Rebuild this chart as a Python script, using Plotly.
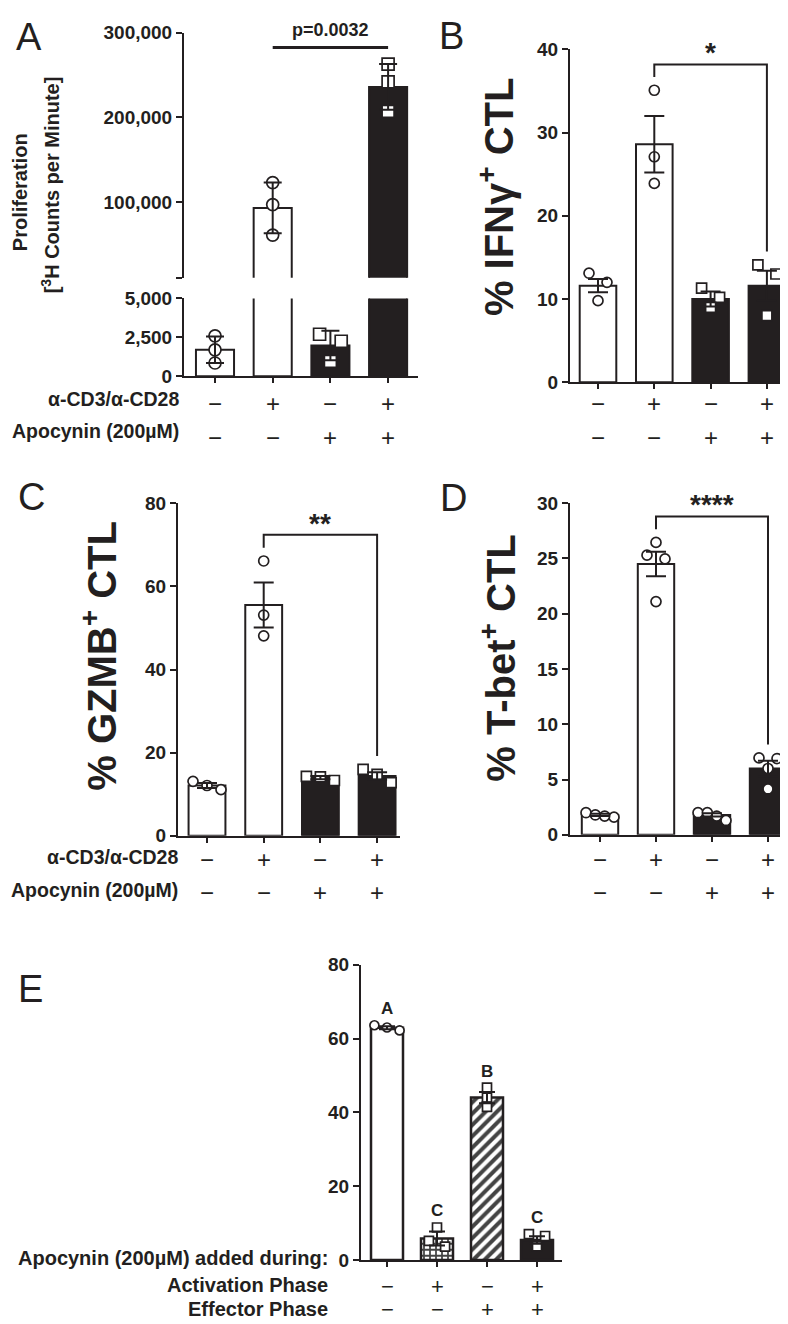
import plotly.graph_objects as go

W, H = 788, 1324
INK = "#231f20"
FONT = "Liberation Sans, Arial, sans-serif"

# ---- data ----
conds = [0, 1, 2, 3]
cd3_signs = ["−", "+", "−", "+"]
apo_signs = ["−", "−", "+", "+"]
act_signs = ["−", "+", "−", "+"]
eff_signs = ["−", "−", "+", "+"]

prolif_mean = [1700, 93000, 1970, 236000]
prolif_sd = [850, 30000, 950, 27000]
prolif_pts = [[2600, 1700, 850], [123000, 97000, 61000],
              [2700, 2250, 950], [263000, 242000, 207000]]

ifng_mean = [11.6, 28.6, 10.0, 11.6]
ifng_sem = [0.8, 3.4, 0.9, 1.8]
ifng_pts = [[13.1, 12.0, 9.8], [35.1, 27.1, 23.9], [11.3, 10.2, 9.0], [14.1, 13.0, 8.0]]

gzmb_mean = [12.1, 55.5, 14.0, 14.4]
gzmb_sem = [0.6, 5.4, 0.4, 0.9]
gzmb_pts = [[11.1, 13.1, 12.1], [66.1, 53.1, 48.1], [13.3, 14.3, 14.2], [16.0, 14.8, 12.8]]

tbet_mean = [1.8, 24.5, 1.8, 6.0]
tbet_sem = [0.1, 1.1, 0.15, 0.7]
tbet_pts = [[1.6, 2.0, 1.7, 1.8], [26.45, 25.3, 24.96, 21.1],
            [1.3, 2.0, 1.7, 2.0], [6.96, 6.9, 6.0, 4.15]]

phase_mean = [62.9, 5.8, 44.0, 5.4]
phase_sem = [0.4, 1.9, 1.5, 1.0]
phase_pts = [[62.2, 63.6, 63.0], [8.8, 5.2, 3.6], [46.7, 44.0, 41.5], [7.0, 6.5, 3.7]]
phase_letters = ["A", "C", "B", "C"]


def xdom(a, b):
    return [a / W, b / W]


def ydom(top, bot):
    return [1 - bot / H, 1 - top / H]


def px(x):
    return x / W


def py(y):
    return 1 - y / H


def spread(vals, ppu, d):
    # prism-like: spread points that overlap vertically
    order = sorted(range(len(vals)), key=lambda i: -vals[i])
    offs = [0.0] * len(vals)
    clusters = []
    for i in order:
        if clusters and abs(vals[clusters[-1][-1]] - vals[i]) * ppu < d:
            clusters[-1].append(i)
        else:
            clusters.append([i])
    for c in clusters:
        k = len(c)
        if k > 1:
            step = min(1.8 * d, 2.8 * d / (k - 1))
            for j, i in enumerate(c):
                offs[i] = (j - (k - 1) / 2) * step
    return offs


fig = go.Figure()


def add_bars(xa, ya, means, fills, width, patterns=None, lw=2):
    marker = dict(color=fills, line=dict(color=INK, width=lw))
    if patterns:
        marker["pattern"] = patterns
    fig.add_trace(go.Bar(x=conds, y=means, width=width, marker=marker,
                         xaxis=xa, yaxis=ya, showlegend=False))


def add_points(xa, ya, idx, vals_list, symbols, ppu, cat_px, d):
    xs, ys, syms = [], [], []
    for i, vals in zip(idx, vals_list):
        offs = spread(vals, ppu, d)
        for v, o in zip(vals, offs):
            xs.append(i + o / cat_px)
            ys.append(v)
            syms.append(symbols[i])
    fig.add_trace(go.Scatter(x=xs, y=ys, mode="markers", xaxis=xa, yaxis=ya,
                             marker=dict(symbol=syms, size=d, color="white",
                                         line=dict(color=INK, width=1.7)),
                             showlegend=False, cliponaxis=False))


def add_err(xa, ya, idx, means, errs, cap=9):
    fig.add_trace(go.Scatter(x=idx, y=means, mode="markers", xaxis=xa, yaxis=ya,
                             marker=dict(size=1, color="rgba(0,0,0,0)"),
                             error_y=dict(type="data", array=errs, thickness=2,
                                          width=cap, color=INK),
                             showlegend=False))


annotations = []
shapes = []


def text(x, y, s, size, bold=False, xanchor="center", yanchor="middle",
         angle=0, xref="paper", yref="paper"):
    annotations.append(dict(x=x, y=y, xref=xref, yref=yref, text=f"<b>{s}</b>" if bold else s,
                            showarrow=False, xanchor=xanchor, yanchor=yanchor,
                            textangle=angle, font=dict(size=size, color=INK, family=FONT)))


def bracket(xa, ya, top, left_bot, right_bot, stars):
    shapes.append(dict(type="path", xref=xa, yref=ya,
                       path=f"M 1,{left_bot} L 1,{top} L 3,{top} L 3,{right_bot}",
                       line=dict(color=INK, width=2)))
    text(2, top, stars, 28, bold=True, yanchor="bottom", xref=xa, yref=ya)
    annotations[-1]["yshift"] = -6


def xaxis(l, r, c0, s, anchor):
    return dict(domain=xdom(l, r), range=[-(c0 - l) / s, (r - c0) / s], anchor=anchor,
                showline=True, linecolor=INK, linewidth=2, ticks="outside", ticklen=5,
                tickwidth=2, tickcolor=INK, tickvals=conds, showticklabels=False,
                showgrid=False, zeroline=False)


def yaxis(top, bot, rng, tv, tt, anchor):
    return dict(domain=ydom(top, bot), range=rng, anchor=anchor, showline=True,
                linecolor=INK, linewidth=2, ticks="outside", ticklen=6, tickwidth=2,
                tickcolor=INK, tickvals=tv, ticktext=tt, showgrid=False, zeroline=False,
                tickfont=dict(size=19, color=INK, family=FONT, weight="bold"))


def sign_rows(xa, rows, ys, size=24):
    for row, y in zip(rows, ys):
        for i, s in enumerate(row):
            text(i, py(y), s, size, xref=xa)


W4 = ["white", "white", INK, INK]

# ---- panel A (broken axis) ----
A_top, A_brk, A_low, A_bot = 15, 264, 285, 364
up_min = 300000 - (A_brk - A_top) * 100000 / 86
add_bars("x", "y", prolif_mean, W4, 0.66)
add_bars("x", "y2", prolif_mean, W4, 0.66)
up_idx = [i for i in conds if prolif_mean[i] > up_min]
lo_idx = [i for i in conds if prolif_mean[i] <= up_min]
symA = ["circle", "circle", "square", "square"]
add_points("x", "y", up_idx, [prolif_pts[i] for i in up_idx], symA, 86 / 100000, 57.7, 12)
add_points("x", "y2", lo_idx, [prolif_pts[i] for i in lo_idx], symA, 79 / 5000, 57.7, 12)
add_err("x", "y", up_idx, [prolif_mean[i] for i in up_idx], [prolif_sd[i] for i in up_idx])
add_err("x", "y2", lo_idx, [prolif_mean[i] for i in lo_idx], [prolif_sd[i] for i in lo_idx])
pline = 300000 - 15 * 100000 / 86
shapes.append(dict(type="line", xref="x", yref="y", x0=1, x1=3, y0=pline, y1=pline,
                   line=dict(color=INK, width=3)))
text(2, py(12), "p=0.0032", 18, bold=True, xref="x")

# ---- panels B, C, D ----
symBC = ["circle", "circle", "square", "square"]
panels = [
    ("x2", "y3", ifng_mean, ifng_sem, ifng_pts, symBC, 40, (370 - 32) / 40, 56.3, 0.955),
    ("x3", "y4", gzmb_mean, gzmb_sem, gzmb_pts, symBC, 80, (831 - 493) / 80, 56.7, 0.905),
    ("x4", "y5", tbet_mean, tbet_sem, tbet_pts, ["circle"] * 4, 30, (830 - 493) / 30, 56.0, 0.96),
]
stars = ["*", "**", "****"]
for (xa, ya, m, e, p, sy, ymax, ppu, cpx, frac), st in zip(panels, stars):
    add_bars(xa, ya, m, W4, 0.65)
    add_points(xa, ya, conds, p, sy, ppu, cpx, 10)
    add_err(xa, ya, conds, m, e, cap=10)
    pad = 0.04 * ymax
    bracket(xa, ya, frac * ymax, max(p[1]) + pad, max(p[3]) + pad, st)

# ---- panel E ----
patE = dict(shape=["", "+", "/", ""], fgcolor=INK, bgcolor="white", fgopacity=1,
            size=[6, 6, 8, 6], solidity=[0.3, 0.5, 0.5, 0.3])
add_bars("x5", "y6", phase_mean, ["white", "white", "white", INK], 0.64, patterns=patE, lw=2.5)
add_points("x5", "y6", conds, phase_pts, ["circle", "square", "square", "square"],
           300 / 80, 50, 9)
add_err("x5", "y6", conds, phase_mean, phase_sem, cap=8)
for i, l in enumerate(phase_letters):
    text(i, max(phase_pts[i]) + 4.5, l, 17, bold=True, xref="x5", yref="y6")

# ---- text: titles, row labels, signs, panel letters ----
text(px(12), py(177), "Proliferation", 20, bold=True, angle=-90)
text(px(42), py(170), "[<sup>3</sup>H Counts per Minute]", 20, bold=True, angle=-90)
text(px(488), py(182), "% IFNγ<sup>+</sup> CTL", 40, bold=True, angle=-90)
text(px(91), py(648), "% GZMB<sup>+</sup> CTL", 40, bold=True, angle=-90)
text(px(490), py(651), "% T-bet<sup>+</sup> CTL", 40, bold=True, angle=-90)

for lab, y in [("α-CD3/α-CD28", 387), ("Apocynin (200µM)", 420)]:
    text(px(173), py(y), lab, 19.5, bold=True, xanchor="right")
for lab, y in [("α-CD3/α-CD28", 853), ("Apocynin (200µM)", 886)]:
    text(px(172), py(y), lab, 19.5, bold=True, xanchor="right")
for lab, y in [("Apocynin (200µM) added during:", 1260), ("Activation Phase", 1287),
               ("Effector Phase", 1312)]:
    text(px(322), py(y), lab, 20, bold=True, xanchor="right")

sign_rows("x", [cd3_signs, apo_signs], [392, 426])
sign_rows("x2", [cd3_signs, apo_signs], [392, 426])
sign_rows("x3", [cd3_signs, apo_signs], [855, 889])
sign_rows("x4", [cd3_signs, apo_signs], [855, 889])
sign_rows("x5", [act_signs, eff_signs], [1289, 1312], size=22)

for lab, x, y in [("A", 21, 19), ("B", 443, 18), ("C", 23, 487), ("D", 445, 488), ("E", 22, 987)]:
    text(px(x), py(y), lab, 38)

fig.update_layout(
    width=W, height=H, margin=dict(l=0, r=0, t=0, b=0),
    paper_bgcolor="white", plot_bgcolor="white", showlegend=False,
    font=dict(family=FONT, color=INK), barmode="overlay",
    xaxis=xaxis(176, 410, 207, 57.7, "y2"),
    yaxis=yaxis(A_top, A_brk, [up_min, 300000], [up_min, 100000, 200000, 300000],
                ["", "100,000", "200,000", "300,000"], "x"),
    yaxis2=yaxis(A_low, A_bot, [0, 5000], [0, 2500, 5000], ["0", "2,500", "5,000"], "x"),
    xaxis2=xaxis(562, 788, 590, 56.3, "y3"),
    yaxis3=yaxis(32, 370, [0, 40], [0, 10, 20, 30, 40], None, "x2"),
    xaxis3=xaxis(170, 392, 199, 56.7, "y4"),
    yaxis4=yaxis(493, 831, [0, 80], [0, 20, 40, 60, 80], None, "x3"),
    xaxis4=xaxis(562, 788, 592, 56.0, "y5"),
    yaxis5=yaxis(493, 830, [0, 30], [0, 5, 10, 15, 20, 25, 30], None, "x4"),
    xaxis5=xaxis(353, 554, 379, 50.0, "y6"),
    yaxis6=yaxis(962, 1262, [0, 80], [0, 20, 40, 60, 80], None, "x5"),
    annotations=annotations, shapes=shapes,
)

fig.write_html("out.html")
